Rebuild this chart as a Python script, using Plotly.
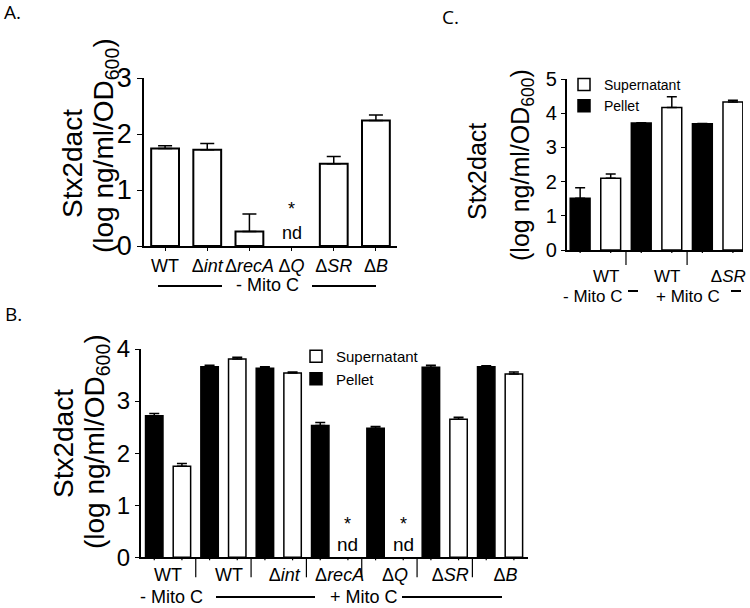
import plotly.graph_objects as go

W, H = 750, 608


def px(x):
    return x / W


def py(y):
    return 1 - y / H


# ---------------- data ----------------
# Panel A (- Mito C, supernatant)
a_labels = ["WT", "Δ<i>int</i>", "Δ<i>recA</i>", "Δ<i>Q</i>", "Δ<i>SR</i>", "Δ<i>B</i>"]
a_values = [1.74, 1.72, 0.26, None, 1.47, 2.24]
a_err = [0.05, 0.11, 0.31, 0.0, 0.13, 0.10]
a_nd = [3]

# Panel B
b_groups = ["WT", "WT", "Δ<i>int</i>", "Δ<i>recA</i>", "Δ<i>Q</i>", "Δ<i>SR</i>", "Δ<i>B</i>"]
b_pellet = [2.72, 3.66, 3.63, 2.53, 2.48, 3.65, 3.66]
b_pellet_err = [0.04, 0.03, 0.03, 0.06, 0.03, 0.04, 0.02]
b_super = [1.75, 3.81, 3.54, None, None, 2.65, 3.52]
b_super_err = [0.05, 0.03, 0.02, 0.0, 0.0, 0.04, 0.04]
b_nd = [3, 4]

# Panel C
c_groups = ["WT", "WT", "Δ<i>SR</i>"]
c_pellet = [1.51, 3.71, 3.69]
c_pellet_err = [0.31, 0.01, 0.01]
c_super = [2.10, 4.17, 4.33]
c_super_err = [0.12, 0.31, 0.05]

FONT = "Liberation Sans, Arial, sans-serif"
LETTER_FONT = "Open Sans, sans-serif"

fig = go.Figure()


def err(arr, width, thick=1.5):
    return dict(type="data", symmetric=False, array=arr, arrayminus=[0] * len(arr),
                color="black", thickness=thick, width=width)


# Panel C traces (legend)
fig.add_trace(go.Bar(
    x=[2 * i + 1 for i in range(len(c_super))], y=c_super, width=0.65,
    name="Supernatant", legend="legend",
    marker=dict(color="white", line=dict(color="black", width=1.5)),
    error_y=err(c_super_err, 5), xaxis="x2", yaxis="y2"))
fig.add_trace(go.Bar(
    x=[2 * i for i in range(len(c_pellet))], y=c_pellet, width=0.65,
    name="Pellet", legend="legend",
    marker=dict(color="black", line=dict(color="black", width=1.5)),
    error_y=err(c_pellet_err, 5), xaxis="x2", yaxis="y2"))

# Panel B traces (legend2)
fig.add_trace(go.Bar(
    x=[2 * i + 1 for i in range(len(b_super))], y=b_super, width=0.63,
    name="Supernatant", legend="legend2",
    marker=dict(color="white", line=dict(color="black", width=1.5)),
    error_y=err(b_super_err, 5), xaxis="x3", yaxis="y3"))
fig.add_trace(go.Bar(
    x=[2 * i for i in range(len(b_pellet))], y=b_pellet, width=0.63,
    name="Pellet", legend="legend2",
    marker=dict(color="black", line=dict(color="black", width=1.5)),
    error_y=err(b_pellet_err, 5), xaxis="x3", yaxis="y3"))

# Panel A trace
fig.add_trace(go.Bar(
    x=list(range(len(a_values))), y=a_values, width=0.66, showlegend=False,
    marker=dict(color="white", line=dict(color="black", width=2)),
    error_y=err(a_err, 7), xaxis="x", yaxis="y"))

axis_common = dict(showline=True, linecolor="black", linewidth=1.5, showgrid=False,
                   zeroline=False, tickcolor="black", ticks="outside", tickwidth=1.2,
                   fixedrange=True, automargin=False, tickangle=0)

fig.update_layout(
    width=W, height=H, margin=dict(l=0, r=0, t=0, b=0, autoexpand=False),
    paper_bgcolor="white", plot_bgcolor="white",
    font=dict(family=FONT, color="black"),
    barmode="overlay",
    xaxis=dict(axis_common, domain=[px(144), px(397)], range=[-0.5, 5.5], anchor="y",
               tickvals=list(range(len(a_labels))), ticktext=a_labels, ticklen=3,
               tickfont=dict(size=18)),
    yaxis=dict(axis_common, domain=[py(246), py(78)], range=[0, 3], anchor="x",
               tickvals=[0, 1, 2, 3], ticklen=5, tickfont=dict(size=27)),
    xaxis2=dict(axis_common, domain=[px(566.7), px(743)], range=[-0.44, 5.33], anchor="y2",
                tickvals=[2 * i + 0.5 + 0.35 for i in range(len(c_groups))], ticktext=c_groups,
                ticks="", ticklabelstandoff=10, tickfont=dict(size=17)),
    yaxis2=dict(axis_common, domain=[py(250), py(79)], range=[0, 5], anchor="x2",
                tickvals=[0, 1, 2, 3, 4, 5], ticklen=4, tickfont=dict(size=20)),
    xaxis3=dict(axis_common, domain=[px(140.7), px(528)], range=[-0.49, 13.51], anchor="y3",
                tickvals=[2 * i + 0.5 + (0.2 if i else 0) for i in range(len(b_groups))],
                ticktext=b_groups, ticks="", tickfont=dict(size=18)),
    yaxis3=dict(axis_common, domain=[py(557.3), py(349)], range=[0, 4], anchor="x3",
                tickvals=[0, 1, 2, 3, 4], ticklen=4, tickfont=dict(size=24)),
    legend=dict(x=px(564), y=py(69), xanchor="left", yanchor="top",
                font=dict(size=14), bgcolor="rgba(0,0,0,0)", tracegroupgap=0,
                itemclick=False, itemdoubleclick=False),
    legend2=dict(x=px(296), y=py(340), xanchor="left", yanchor="top",
                 font=dict(size=15), bgcolor="rgba(0,0,0,0)", tracegroupgap=0,
                 itemclick=False, itemdoubleclick=False),
)

ann = []
# panel letters
for txt, x, y in [("A.", 2, 12), ("B.", 3, 314), ("C.", 440, 17)]:
    ann.append(dict(text=txt, x=px(x), y=py(y), xref="paper", yref="paper",
                    xanchor="left", yanchor="middle", showarrow=False,
                    font=dict(family=LETTER_FONT, size=19)))

# y-axis titles
ytitle1 = "Stx2dact"
ytitle2 = "(log ng/ml/OD<sub>600</sub>)"
for (x1, y1, x2, y2, fs) in [(72, 164, 106, 146, 28), (63, 444, 96, 442, 28),
                              (477, 172, 522, 165, 25)]:
    ann.append(dict(text=ytitle1, x=px(x1), y=py(y1), xref="paper", yref="paper",
                    xanchor="center", yanchor="middle",
                    textangle=-90, showarrow=False, font=dict(size=fs)))
    ann.append(dict(text=ytitle2, x=px(x2), y=py(y2), xref="paper", yref="paper",
                    xanchor="center", yanchor="middle",
                    textangle=-90, showarrow=False, font=dict(size=fs)))

# nd markers
for i in a_nd:
    ann.append(dict(text="*", x=i, y=0.66, xref="x", yref="y", showarrow=False,
                    xanchor="center", yanchor="middle", font=dict(size=18)))
    ann.append(dict(text="nd", x=i, y=0.23, xref="x", yref="y", showarrow=False,
                    xanchor="center", yanchor="middle", font=dict(size=18)))
for i in b_nd:
    ann.append(dict(text="*", x=2 * i + 1, y=0.64, xref="x3", yref="y3", showarrow=False,
                    xanchor="center", yanchor="middle", font=dict(size=18)))
    ann.append(dict(text="nd", x=2 * i + 1, y=0.25, xref="x3", yref="y3", showarrow=False,
                    xanchor="center", yanchor="middle", font=dict(size=19)))

# treatment labels
for txt, x, y, fs in [("- Mito C", 267, 285, 18), ("- Mito C", 171, 597, 18),
                      ("+ Mito C", 364, 597, 18), ("- Mito C", 593, 296, 17),
                      ("+ Mito C", 688, 296, 17)]:
    ann.append(dict(text=txt, x=px(x), y=py(y), xref="paper", yref="paper",
                    xanchor="center", yanchor="middle",
                    showarrow=False, font=dict(size=fs)))

shapes = []
for (x0, x1, y) in [(158, 222, 286), (312, 376, 286), (216, 315, 597), (402, 502, 597),
                    (628, 638, 291), (731, 741, 291)]:
    shapes.append(dict(type="line", xref="paper", yref="paper", x0=px(x0), x1=px(x1),
                       y0=py(y), y1=py(y), line=dict(color="black", width=2)))

# small ticks under each bar and group separators
b_h, c_h = 557.3 - 349, 250 - 79
for j in range(2 * len(b_groups)):
    shapes.append(dict(type="line", xref="x3", yref="y3 domain", x0=j, x1=j,
                       y0=0, y1=-3 / b_h, line=dict(color="black", width=1.2)))
for j in range(2 * len(c_groups)):
    shapes.append(dict(type="line", xref="x2", yref="y2 domain", x0=j, x1=j,
                       y0=0, y1=-3 / c_h, line=dict(color="black", width=1.2)))
for i in range(1, len(b_groups)):
    shapes.append(dict(type="line", xref="x3", yref="y3 domain", x0=2 * i - 0.5, x1=2 * i - 0.5,
                       y0=0, y1=-20 / b_h, line=dict(color="black", width=1.2)))
for i in range(1, len(c_groups)):
    shapes.append(dict(type="line", xref="x2", yref="y2 domain", x0=2 * i - 0.5, x1=2 * i - 0.5,
                       y0=0, y1=-15 / c_h, line=dict(color="black", width=1.2)))

fig.update_layout(annotations=ann, shapes=shapes)

fig.write_html("out.html", config={"displayModeBar": False},
               post_script="document.body.style.margin='0';")
